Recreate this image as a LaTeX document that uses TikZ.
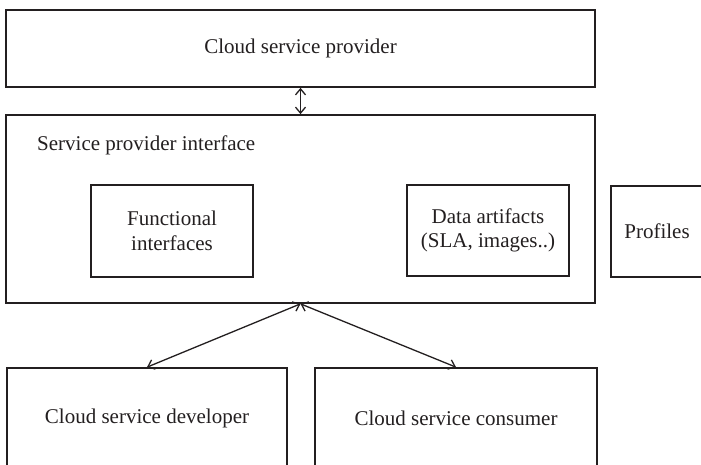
\documentclass[tikz,border=0pt]{standalone}
\usepackage{fontspec}
\setmainfont{Liberation Serif}
\usetikzlibrary{arrows.meta}
\definecolor{ink}{HTML}{231F20}
\tikzset{
  box/.style={draw=ink, line width=1.7pt, rectangle, inner sep=0pt, align=center, text=ink},
  lbl/.style={inner sep=0pt, text=ink, align=center},
  dconn/.style={draw=ink, line width=1.3pt, arrows={Straight Barb[length=6pt,width=10pt]-Straight Barb[length=6pt,width=10pt]}}
}
\begin{document}
\begin{tikzpicture}[x=1pt,y=-1pt,font=\fontsize{21}{24.5}\selectfont]
\useasboundingbox (0,0) rectangle (701,464);
\clip (0,0) rectangle (701,464);
% boxes
\node[box, minimum width=589pt, minimum height=77pt] (cp) at (300.5,48.5) {Cloud service provider};
\node[box, minimum width=589pt, minimum height=188pt] (spi) at (300.5,209) {};
\node[lbl, anchor=west] (spil) at (37,145) {Service provider interface};
\node[box, minimum width=162pt, minimum height=92pt] (fi) at (172,231) {Functional\\interfaces};
\node[box, minimum width=162pt, minimum height=91pt] (da) at (488,230.5) {Data artifacts\\(SLA, images..)};
\node[box, minimum width=92pt, minimum height=91pt] (pr) at (657,231.5) {Profiles};
\node[box, minimum width=280pt, minimum height=100pt] (dev) at (147,418) {Cloud service developer};
\node[box, minimum width=282pt, minimum height=100pt] (con) at (456,418) {Cloud service consumer};
% connectors
\draw[dconn] (cp.south) -- (spi.north);
\draw[dconn] (spi.south) -- (dev.north);
\draw[dconn] (spi.south) -- (con.north);
\end{tikzpicture}
\end{document}
